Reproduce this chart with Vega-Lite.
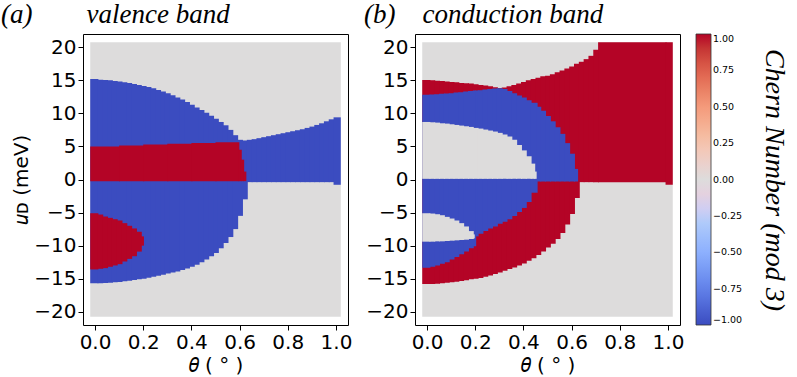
{
  "$schema": "https://vega.github.io/schema/vega-lite/v6.json",
  "background": "white",
  "padding": {"left": 0, "top": 0, "right": 6, "bottom": 0},
  "spacing": 10,
  "config": {
    "view": {"stroke": "black", "strokeWidth": 1},
    "axis": {
      "labelFont": "DejaVu Sans", "labelFontSize": 20, "labelColor": "black",
      "titleFont": "DejaVu Sans", "titleFontSize": 20, "titleFontWeight": "normal", "titleColor": "black",
      "tickColor": "black", "tickSize": 5, "domain": false, "grid": false,
      "labelPadding": 2, "labelFlush": false, "labelOverlap": false
    },
    "axisY": {"titlePadding": 2},
    "axisX": {"titlePadding": 3},
    "legend": {
      "orient": "right", "offset": 11, "padding": 0, "direction": "vertical",
      "gradientLength": 291, "gradientThickness": 15,
      "gradientStrokeColor": "#333333", "gradientStrokeWidth": 0.8,
      "labelFont": "DejaVu Sans", "labelFontSize": 9.5, "labelColor": "black", "labelOffset": 6,
      "titleOrient": "right", "titleFont": "Liberation Serif", "titleFontStyle": "italic",
      "titleFontSize": 28, "titleFontWeight": "normal", "titleColor": "black",
      "titlePadding": 18, "titleAnchor": "middle", "titleLimit": 400
    }
  },
  "datasets": {
    "a": [
      {"t1":-0.02,"t2":1.02,"u1":-20.75,"u2":20.75,"c":0},
      {"t1":-0.02,"t2":0.014,"u1":-15.7,"u2":15.2,"c":-1},
      {"t1":0.01,"t2":0.034,"u1":-15.7,"u2":15.1,"c":-1},
      {"t1":0.03,"t2":0.054,"u1":-15.65,"u2":15.05,"c":-1},
      {"t1":0.05,"t2":0.074,"u1":-15.6,"u2":15.0,"c":-1},
      {"t1":0.07,"t2":0.094,"u1":-15.55,"u2":14.9,"c":-1},
      {"t1":0.09,"t2":0.114,"u1":-15.5,"u2":14.8,"c":-1},
      {"t1":0.11,"t2":0.134,"u1":-15.4,"u2":14.7,"c":-1},
      {"t1":0.13,"t2":0.154,"u1":-15.3,"u2":14.6,"c":-1},
      {"t1":0.15,"t2":0.174,"u1":-15.2,"u2":14.45,"c":-1},
      {"t1":0.17,"t2":0.194,"u1":-15.1,"u2":14.3,"c":-1},
      {"t1":0.19,"t2":0.214,"u1":-15.0,"u2":14.15,"c":-1},
      {"t1":0.21,"t2":0.234,"u1":-14.85,"u2":14.0,"c":-1},
      {"t1":0.23,"t2":0.254,"u1":-14.7,"u2":13.8,"c":-1},
      {"t1":0.25,"t2":0.274,"u1":-14.55,"u2":13.55,"c":-1},
      {"t1":0.27,"t2":0.294,"u1":-14.4,"u2":13.3,"c":-1},
      {"t1":0.29,"t2":0.314,"u1":-14.2,"u2":13.05,"c":-1},
      {"t1":0.31,"t2":0.334,"u1":-14.05,"u2":12.75,"c":-1},
      {"t1":0.33,"t2":0.354,"u1":-13.9,"u2":12.4,"c":-1},
      {"t1":0.35,"t2":0.374,"u1":-13.7,"u2":12.1,"c":-1},
      {"t1":0.37,"t2":0.394,"u1":-13.45,"u2":11.7,"c":-1},
      {"t1":0.39,"t2":0.414,"u1":-13.2,"u2":11.3,"c":-1},
      {"t1":0.41,"t2":0.434,"u1":-12.9,"u2":10.9,"c":-1},
      {"t1":0.43,"t2":0.454,"u1":-12.5,"u2":10.5,"c":-1},
      {"t1":0.45,"t2":0.474,"u1":-12.1,"u2":10.1,"c":-1},
      {"t1":0.47,"t2":0.494,"u1":-11.6,"u2":9.65,"c":-1},
      {"t1":0.49,"t2":0.514,"u1":-11.1,"u2":9.2,"c":-1},
      {"t1":0.51,"t2":0.534,"u1":-10.4,"u2":8.7,"c":-1},
      {"t1":0.53,"t2":0.554,"u1":-9.6,"u2":8.2,"c":-1},
      {"t1":0.55,"t2":0.574,"u1":-8.7,"u2":7.5,"c":-1},
      {"t1":0.57,"t2":0.594,"u1":-7.5,"u2":6.7,"c":-1},
      {"t1":0.59,"t2":0.614,"u1":-5.5,"u2":6.0,"c":-1},
      {"t1":0.61,"t2":0.634,"u1":-3.0,"u2":5.9,"c":-1},
      {"t1":0.63,"t2":0.654,"u1":-0.4,"u2":6.0,"c":-1},
      {"t1":0.65,"t2":0.674,"u1":-0.4,"u2":6.1,"c":-1},
      {"t1":0.67,"t2":0.694,"u1":-0.4,"u2":6.25,"c":-1},
      {"t1":0.69,"t2":0.714,"u1":-0.4,"u2":6.4,"c":-1},
      {"t1":0.71,"t2":0.734,"u1":-0.4,"u2":6.55,"c":-1},
      {"t1":0.73,"t2":0.754,"u1":-0.4,"u2":6.7,"c":-1},
      {"t1":0.75,"t2":0.774,"u1":-0.4,"u2":6.85,"c":-1},
      {"t1":0.77,"t2":0.794,"u1":-0.4,"u2":7.0,"c":-1},
      {"t1":0.79,"t2":0.814,"u1":-0.4,"u2":7.15,"c":-1},
      {"t1":0.81,"t2":0.834,"u1":-0.4,"u2":7.3,"c":-1},
      {"t1":0.83,"t2":0.854,"u1":-0.4,"u2":7.45,"c":-1},
      {"t1":0.85,"t2":0.874,"u1":-0.4,"u2":7.6,"c":-1},
      {"t1":0.87,"t2":0.894,"u1":-0.4,"u2":7.8,"c":-1},
      {"t1":0.89,"t2":0.914,"u1":-0.4,"u2":8.0,"c":-1},
      {"t1":0.91,"t2":0.934,"u1":-0.4,"u2":8.25,"c":-1},
      {"t1":0.93,"t2":0.954,"u1":-0.4,"u2":8.5,"c":-1},
      {"t1":0.95,"t2":0.974,"u1":-0.4,"u2":8.8,"c":-1},
      {"t1":0.97,"t2":0.994,"u1":-0.4,"u2":9.1,"c":-1},
      {"t1":0.99,"t2":1.02,"u1":-0.8,"u2":9.4,"c":-1},
      {"t1":-0.02,"t2":0.104,"u1":-0.25,"u2":5.0,"c":1},
      {"t1":0.1,"t2":0.204,"u1":-0.25,"u2":5.15,"c":1},
      {"t1":0.2,"t2":0.304,"u1":-0.25,"u2":5.28,"c":1},
      {"t1":0.3,"t2":0.404,"u1":-0.25,"u2":5.4,"c":1},
      {"t1":0.4,"t2":0.504,"u1":-0.25,"u2":5.53,"c":1},
      {"t1":0.5,"t2":0.599,"u1":-0.25,"u2":5.65,"c":1},
      {"t1":0.595,"t2":0.609,"u1":-0.25,"u2":4.5,"c":1},
      {"t1":0.605,"t2":0.619,"u1":-0.25,"u2":3.0,"c":1},
      {"t1":0.615,"t2":0.628,"u1":-0.25,"u2":1.2,"c":1},
      {"t1":-0.02,"t2":0.014,"u1":-13.6,"u2":-5.1,"c":1},
      {"t1":0.01,"t2":0.034,"u1":-13.5,"u2":-5.3,"c":1},
      {"t1":0.03,"t2":0.054,"u1":-13.4,"u2":-5.6,"c":1},
      {"t1":0.05,"t2":0.074,"u1":-13.2,"u2":-5.8,"c":1},
      {"t1":0.07,"t2":0.094,"u1":-13.0,"u2":-6.0,"c":1},
      {"t1":0.09,"t2":0.114,"u1":-12.8,"u2":-6.2,"c":1},
      {"t1":0.11,"t2":0.134,"u1":-12.4,"u2":-6.6,"c":1},
      {"t1":0.13,"t2":0.154,"u1":-12.0,"u2":-7.0,"c":1},
      {"t1":0.15,"t2":0.174,"u1":-11.6,"u2":-7.4,"c":1},
      {"t1":0.17,"t2":0.194,"u1":-10.9,"u2":-7.9,"c":1},
      {"t1":0.19,"t2":0.203,"u1":-10.0,"u2":-8.6,"c":1}
    ],
    "b": [
      {"t1":-0.02,"t2":1.02,"u1":-20.75,"u2":20.75,"c":0},
      {"t1":-0.02,"t2":0.014,"u1":-15.8,"u2":15.05,"c":1},
      {"t1":0.01,"t2":0.034,"u1":-15.8,"u2":15.0,"c":1},
      {"t1":0.03,"t2":0.054,"u1":-15.75,"u2":14.95,"c":1},
      {"t1":0.05,"t2":0.074,"u1":-15.7,"u2":14.9,"c":1},
      {"t1":0.07,"t2":0.094,"u1":-15.6,"u2":14.8,"c":1},
      {"t1":0.09,"t2":0.114,"u1":-15.55,"u2":14.75,"c":1},
      {"t1":0.11,"t2":0.134,"u1":-15.45,"u2":14.7,"c":1},
      {"t1":0.13,"t2":0.154,"u1":-15.35,"u2":14.6,"c":1},
      {"t1":0.15,"t2":0.174,"u1":-15.25,"u2":14.55,"c":1},
      {"t1":0.17,"t2":0.194,"u1":-15.1,"u2":14.5,"c":1},
      {"t1":0.19,"t2":0.214,"u1":-15.0,"u2":14.4,"c":1},
      {"t1":0.21,"t2":0.234,"u1":-14.9,"u2":14.3,"c":1},
      {"t1":0.23,"t2":0.254,"u1":-14.7,"u2":14.2,"c":1},
      {"t1":0.25,"t2":0.274,"u1":-14.5,"u2":14.1,"c":1},
      {"t1":0.27,"t2":0.294,"u1":-14.3,"u2":13.95,"c":1},
      {"t1":0.29,"t2":0.314,"u1":-14.05,"u2":13.85,"c":1},
      {"t1":0.31,"t2":0.334,"u1":-13.8,"u2":13.9,"c":1},
      {"t1":0.33,"t2":0.354,"u1":-13.55,"u2":14.1,"c":1},
      {"t1":0.35,"t2":0.374,"u1":-13.3,"u2":14.3,"c":1},
      {"t1":0.37,"t2":0.394,"u1":-13.0,"u2":14.5,"c":1},
      {"t1":0.39,"t2":0.414,"u1":-12.7,"u2":14.75,"c":1},
      {"t1":0.41,"t2":0.434,"u1":-12.3,"u2":15.0,"c":1},
      {"t1":0.43,"t2":0.454,"u1":-11.9,"u2":15.2,"c":1},
      {"t1":0.45,"t2":0.474,"u1":-11.4,"u2":15.4,"c":1},
      {"t1":0.47,"t2":0.494,"u1":-10.9,"u2":15.6,"c":1},
      {"t1":0.49,"t2":0.514,"u1":-10.3,"u2":15.7,"c":1},
      {"t1":0.51,"t2":0.534,"u1":-9.7,"u2":15.9,"c":1},
      {"t1":0.53,"t2":0.554,"u1":-9.0,"u2":16.2,"c":1},
      {"t1":0.55,"t2":0.574,"u1":-8.1,"u2":16.5,"c":1},
      {"t1":0.57,"t2":0.594,"u1":-6.8,"u2":16.8,"c":1},
      {"t1":0.59,"t2":0.614,"u1":-5.2,"u2":17.1,"c":1},
      {"t1":0.61,"t2":0.634,"u1":-2.8,"u2":17.5,"c":1},
      {"t1":0.63,"t2":0.654,"u1":-0.4,"u2":17.8,"c":1},
      {"t1":0.65,"t2":0.674,"u1":-0.4,"u2":18.2,"c":1},
      {"t1":0.67,"t2":0.694,"u1":-0.4,"u2":18.7,"c":1},
      {"t1":0.69,"t2":0.714,"u1":-0.4,"u2":19.6,"c":1},
      {"t1":0.71,"t2":0.994,"u1":-0.4,"u2":20.75,"c":1},
      {"t1":0.99,"t2":1.02,"u1":-0.8,"u2":20.75,"c":1},
      {"t1":-0.02,"t2":0.014,"u1":-13.35,"u2":12.8,"c":-1},
      {"t1":0.01,"t2":0.034,"u1":-13.2,"u2":12.85,"c":-1},
      {"t1":0.03,"t2":0.054,"u1":-13.0,"u2":12.9,"c":-1},
      {"t1":0.05,"t2":0.074,"u1":-12.75,"u2":12.95,"c":-1},
      {"t1":0.07,"t2":0.094,"u1":-12.5,"u2":13.0,"c":-1},
      {"t1":0.09,"t2":0.114,"u1":-12.1,"u2":13.05,"c":-1},
      {"t1":0.11,"t2":0.134,"u1":-11.7,"u2":13.15,"c":-1},
      {"t1":0.13,"t2":0.154,"u1":-11.3,"u2":13.2,"c":-1},
      {"t1":0.15,"t2":0.174,"u1":-10.9,"u2":13.3,"c":-1},
      {"t1":0.17,"t2":0.194,"u1":-10.4,"u2":13.4,"c":-1},
      {"t1":0.19,"t2":0.204,"u1":-10.1,"u2":13.45,"c":-1},
      {"t1":0.2,"t2":0.214,"u1":-8.6,"u2":13.45,"c":-1},
      {"t1":0.21,"t2":0.234,"u1":-8.2,"u2":13.5,"c":-1},
      {"t1":0.23,"t2":0.254,"u1":-7.8,"u2":13.6,"c":-1},
      {"t1":0.25,"t2":0.274,"u1":-7.4,"u2":13.7,"c":-1},
      {"t1":0.27,"t2":0.294,"u1":-7.1,"u2":13.75,"c":-1},
      {"t1":0.29,"t2":0.314,"u1":-6.7,"u2":13.8,"c":-1},
      {"t1":0.31,"t2":0.334,"u1":-6.4,"u2":13.7,"c":-1},
      {"t1":0.33,"t2":0.354,"u1":-6.0,"u2":13.4,"c":-1},
      {"t1":0.35,"t2":0.374,"u1":-5.5,"u2":13.05,"c":-1},
      {"t1":0.37,"t2":0.394,"u1":-4.9,"u2":12.7,"c":-1},
      {"t1":0.39,"t2":0.414,"u1":-4.3,"u2":12.4,"c":-1},
      {"t1":0.41,"t2":0.434,"u1":-3.4,"u2":12.0,"c":-1},
      {"t1":0.43,"t2":0.459,"u1":-2.0,"u2":11.6,"c":-1},
      {"t1":0.455,"t2":0.474,"u1":-0.3,"u2":11.0,"c":-1},
      {"t1":0.47,"t2":0.494,"u1":-0.3,"u2":10.4,"c":-1},
      {"t1":0.49,"t2":0.514,"u1":-0.3,"u2":9.6,"c":-1},
      {"t1":0.51,"t2":0.534,"u1":-0.3,"u2":8.8,"c":-1},
      {"t1":0.53,"t2":0.554,"u1":-0.3,"u2":7.9,"c":-1},
      {"t1":0.55,"t2":0.574,"u1":-0.3,"u2":6.9,"c":-1},
      {"t1":0.57,"t2":0.594,"u1":-0.3,"u2":5.5,"c":-1},
      {"t1":0.59,"t2":0.614,"u1":-0.3,"u2":3.9,"c":-1},
      {"t1":0.61,"t2":0.627,"u1":-0.3,"u2":1.6,"c":-1},
      {"t1":-0.02,"t2":0.014,"u1":0.1,"u2":8.7,"c":0},
      {"t1":0.01,"t2":0.034,"u1":0.1,"u2":8.65,"c":0},
      {"t1":0.03,"t2":0.054,"u1":0.1,"u2":8.6,"c":0},
      {"t1":0.05,"t2":0.074,"u1":0.1,"u2":8.5,"c":0},
      {"t1":0.07,"t2":0.094,"u1":0.1,"u2":8.45,"c":0},
      {"t1":0.09,"t2":0.114,"u1":0.1,"u2":8.35,"c":0},
      {"t1":0.11,"t2":0.134,"u1":0.1,"u2":8.25,"c":0},
      {"t1":0.13,"t2":0.154,"u1":0.1,"u2":8.15,"c":0},
      {"t1":0.15,"t2":0.174,"u1":0.1,"u2":8.05,"c":0},
      {"t1":0.17,"t2":0.194,"u1":0.1,"u2":7.95,"c":0},
      {"t1":0.19,"t2":0.214,"u1":0.1,"u2":7.8,"c":0},
      {"t1":0.21,"t2":0.234,"u1":0.1,"u2":7.7,"c":0},
      {"t1":0.23,"t2":0.254,"u1":0.1,"u2":7.55,"c":0},
      {"t1":0.25,"t2":0.274,"u1":0.1,"u2":7.4,"c":0},
      {"t1":0.27,"t2":0.294,"u1":0.1,"u2":7.25,"c":0},
      {"t1":0.29,"t2":0.314,"u1":0.1,"u2":7.05,"c":0},
      {"t1":0.31,"t2":0.334,"u1":0.1,"u2":6.8,"c":0},
      {"t1":0.33,"t2":0.354,"u1":0.1,"u2":6.5,"c":0},
      {"t1":0.35,"t2":0.374,"u1":0.1,"u2":6.0,"c":0},
      {"t1":0.37,"t2":0.394,"u1":0.1,"u2":5.2,"c":0},
      {"t1":0.39,"t2":0.414,"u1":0.1,"u2":4.4,"c":0},
      {"t1":0.41,"t2":0.434,"u1":0.1,"u2":3.5,"c":0},
      {"t1":0.43,"t2":0.449,"u1":0.1,"u2":2.4,"c":0},
      {"t1":0.445,"t2":0.455,"u1":0.1,"u2":1.2,"c":0},
      {"t1":-0.02,"t2":0.014,"u1":-9.4,"u2":-5.1,"c":0},
      {"t1":0.01,"t2":0.034,"u1":-9.4,"u2":-5.15,"c":0},
      {"t1":0.03,"t2":0.054,"u1":-9.35,"u2":-5.25,"c":0},
      {"t1":0.05,"t2":0.074,"u1":-9.35,"u2":-5.4,"c":0},
      {"t1":0.07,"t2":0.094,"u1":-9.3,"u2":-5.65,"c":0},
      {"t1":0.09,"t2":0.114,"u1":-9.25,"u2":-5.9,"c":0},
      {"t1":0.11,"t2":0.134,"u1":-9.2,"u2":-6.2,"c":0},
      {"t1":0.13,"t2":0.154,"u1":-9.15,"u2":-6.6,"c":0},
      {"t1":0.15,"t2":0.174,"u1":-9.1,"u2":-7.1,"c":0},
      {"t1":0.17,"t2":0.194,"u1":-9.0,"u2":-7.8,"c":0},
      {"t1":0.19,"t2":0.198,"u1":-8.9,"u2":-8.3,"c":0}
    ]
  },
  "hconcat": [
    {
      "width": 265, "height": 291,
      "data": {"name": "a"},
      "title": {"text": "(a)\u00a0\u00a0\u00a0\u00a0\u00a0\u00a0\u00a0\u00a0valence band", "anchor": "start", "frame": "group", "dx": -82, "font": "Liberation Serif", "fontStyle": "italic", "fontSize": 27, "fontWeight": "normal", "color": "black", "offset": 5},
      "mark": {"type": "rect"},
      "encoding": {
        "x": {"field": "t1", "type": "quantitative", "scale": {"domain": [-0.05, 1.05], "nice": false, "zero": false}, "axis": {"values": [0, 0.2, 0.4, 0.6, 0.8, 1], "format": ".1f", "title": "𝜃 ( ° )"}},
        "x2": {"field": "t2"},
        "y": {"field": "u1", "type": "quantitative", "scale": {"domain": [-22, 22], "nice": false, "zero": false}, "axis": {"values": [-20, -15, -10, -5, 0, 5, 10, 15, 20], "format": "d", "title": "𝑢ᴅ (meV)"}},
        "y2": {"field": "u2"},
        "color": {"field": "c", "type": "quantitative", "scale": {"domain": [-1, -0.75, -0.5, -0.25, 0, 0.25, 0.5, 0.75, 1], "range": ["#3b4cc0", "#6282ea", "#8db0fe", "#b8d0f9", "#dddcdc", "#f5c4ac", "#f49a7b", "#de604d", "#b40426"]}, "legend": {"type": "gradient", "title": "Chern Number (mod 3)", "values": [-1, -0.75, -0.5, -0.25, 0, 0.25, 0.5, 0.75, 1], "format": ".2f"}}
      }
    },
    {
      "width": 265, "height": 291,
      "data": {"name": "b"},
      "title": {"text": "(b)\u00a0\u00a0\u00a0\u00a0conduction band", "anchor": "start", "frame": "group", "dx": -51, "font": "Liberation Serif", "fontStyle": "italic", "fontSize": 27, "fontWeight": "normal", "color": "black", "offset": 5},
      "mark": {"type": "rect"},
      "encoding": {
        "x": {"field": "t1", "type": "quantitative", "scale": {"domain": [-0.05, 1.05], "nice": false, "zero": false}, "axis": {"values": [0, 0.2, 0.4, 0.6, 0.8, 1], "format": ".1f", "title": "𝜃 ( ° )"}},
        "x2": {"field": "t2"},
        "y": {"field": "u1", "type": "quantitative", "scale": {"domain": [-22, 22], "nice": false, "zero": false}, "axis": {"values": [-20, -15, -10, -5, 0, 5, 10, 15, 20], "format": "d", "title": null}},
        "y2": {"field": "u2"},
        "color": {"field": "c", "type": "quantitative", "scale": {"domain": [-1, -0.75, -0.5, -0.25, 0, 0.25, 0.5, 0.75, 1], "range": ["#3b4cc0", "#6282ea", "#8db0fe", "#b8d0f9", "#dddcdc", "#f5c4ac", "#f49a7b", "#de604d", "#b40426"]}, "legend": {"type": "gradient", "title": "Chern Number (mod 3)", "values": [-1, -0.75, -0.5, -0.25, 0, 0.25, 0.5, 0.75, 1], "format": ".2f"}}
      }
    }
  ]
}
